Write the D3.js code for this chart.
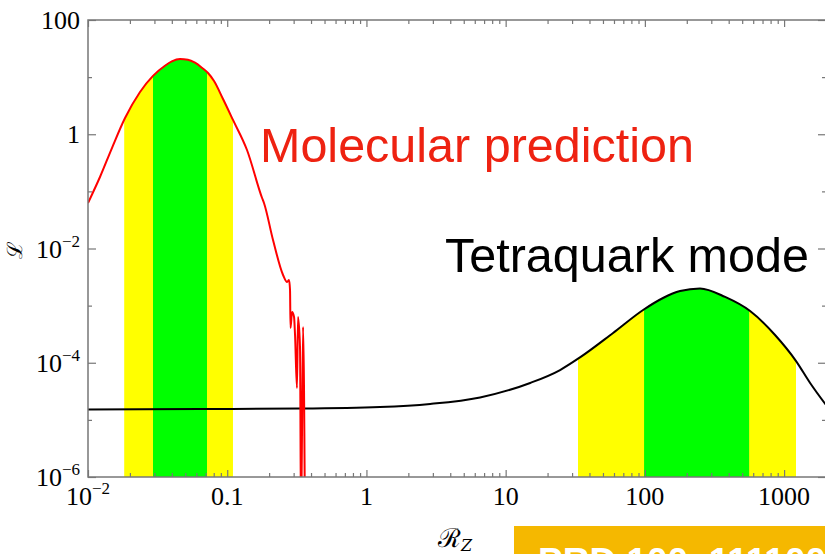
<!DOCTYPE html>
<html>
<head>
<meta charset="utf-8">
<script src="https://cdn.jsdelivr.net/npm/d3@7"></script>
<style>
  html, body { margin: 0; padding: 0; background: #fff; }
  svg { display: block; }
</style>
</head>
<body>
<svg id="chart" width="825" height="554"></svg>
<script>
// Likelihood of R_Z: molecular prediction vs tetraquark model
const molecularX = [0.01, 0.01219, 0.01486, 0.01845, 0.02364, 0.0293, 0.0357, 0.0400, 0.0458, 0.0522,
  0.0587, 0.0658, 0.0728, 0.0804, 0.0933, 0.110, 0.1387, 0.178, 0.1837, 0.2133,
  0.2518, 0.2692, 0.278, 0.2826, 0.2849, 0.2924, 0.302, 0.307, 0.317, 0.3225,
  0.3333, 0.339, 0.3505, 0.362];
const molecularL = [0.0626, 0.1786, 0.574, 1.92, 5.49, 10.5, 15.8, 18.8, 20.7, 20.2,
  17.9, 14.6, 11.8, 8.55, 4.14, 1.78, 0.530, 0.0766, 0.0626, 0.01409,
  0.00344, 0.00259, 0.00281, 0.00188, 0.000406, 0.000773, 0.000632, 0.000306, 3.61e-5, 6.32e-4,
  1.89e-4, 1e-9, 4.23e-4, 1e-9];

const tetraX = [0.01, 0.0638, 0.333, 1.25, 2.87, 6.55, 15.0, 24.6, 34.2, 59.1,
  97.1, 135, 179, 249, 377, 570, 861, 1219, 1538, 2000];
const tetraL = [1.52e-5, 1.55e-5, 1.58e-5, 1.68e-5, 1.90e-5, 2.47e-5, 4.43e-5, 7.46e-5, 1.24e-4, 3.32e-4,
  8.38e-4, 1.36e-3, 1.80e-3, 2.0e-3, 1.42e-3, 8.05e-4, 3.06e-4, 1.07e-4, 4.42e-5, 1.82e-5];

// 1 sigma (green) and 2 sigma (yellow) intervals
const molecularBands = { outer: [0.0182, 0.110], inner: [0.0293, 0.0716] };
const tetraBands = { outer: [33.1, 1219], inner: [98.7, 561] };

const xMajorTicks = [0.01, 0.1, 1, 10, 100, 1000];
const xTickLabels = ["10^−2", "0.1", "1", "10", "100", "1000"];
const yMajorTicks = [100, 1, 1e-2, 1e-4, 1e-6];
const yTickLabels = ["100", "1", "10^−2", "10^−4", "10^−6"];
const yMinorTicks = [10, 0.1, 1e-3, 1e-5];

const svg = d3.select("#chart");
const plotL = 88, plotR = 826, plotT = 20, plotB = 477;

const x = d3.scaleLog().domain([0.01, 2000]).range([plotL, plotR]);
const y = d3.scaleLog().domain([1e-6, 100]).range([plotB, plotT]);

const defs = svg.append("defs");
defs.append("clipPath").attr("id", "plot-clip")
  .append("rect").attr("x", plotL).attr("y", plotT)
  .attr("width", plotR - plotL).attr("height", plotB - plotT);

function bandClip(id, range) {
  defs.append("clipPath").attr("id", id)
    .append("rect").attr("x", x(range[0])).attr("y", plotT)
    .attr("width", x(range[1]) - x(range[0])).attr("height", plotB - plotT);
}
bandClip("mol-outer", molecularBands.outer);
bandClip("mol-inner", molecularBands.inner);
bandClip("tet-outer", tetraBands.outer);
bandClip("tet-inner", tetraBands.inner);

const molData = molecularX.map((v, i) => [v, molecularL[i]]);
const tetData = tetraX.map((v, i) => [v, tetraL[i]]);

const area = d3.area()
  .x(d => x(d[0]))
  .y0(plotB)
  .y1(d => Math.min(plotB + 50, y(d[1])))
  .curve(d3.curveMonotoneX);
const line = d3.line()
  .x(d => x(d[0]))
  .y(d => Math.min(plotB + 50, y(d[1])))
  .curve(d3.curveMonotoneX);

const plot = svg.append("g").attr("clip-path", "url(#plot-clip)");

// shaded intervals under each curve
plot.append("path").attr("d", area(molData)).attr("fill", "#ffff00").attr("clip-path", "url(#mol-outer)");
plot.append("path").attr("d", area(molData)).attr("fill", "#00ff00").attr("clip-path", "url(#mol-inner)");
plot.append("path").attr("d", area(tetData)).attr("fill", "#ffff00").attr("clip-path", "url(#tet-outer)");
plot.append("path").attr("d", area(tetData)).attr("fill", "#00ff00").attr("clip-path", "url(#tet-inner)");

// curves
plot.append("path").attr("d", line(tetData)).attr("fill", "none")
  .attr("stroke", "#000").attr("stroke-width", 2);
plot.append("path").attr("d", line(molData)).attr("fill", "none")
  .attr("stroke", "#ff0000").attr("stroke-width", 2).attr("stroke-linejoin", "round");

// frame and ticks
const axisColor = "#777";
const xMinorTicks = [];
for (let e = -2; e <= 3; e++) {
  for (let m = 2; m <= 9; m++) {
    const v = m * Math.pow(10, e);
    if (v < 2000) xMinorTicks.push(v);
  }
}

function ticks(axisGen, transform, values, size) {
  svg.append("g").attr("transform", transform)
    .call(axisGen.tickValues(values).tickSize(size).tickFormat(""))
    .call(s => s.select(".domain").remove())
    .call(s => s.selectAll("text").remove())
    .call(s => s.selectAll("line").attr("stroke", axisColor).attr("stroke-width", 1.2));
}
ticks(d3.axisBottom(x), `translate(0,${plotB})`, xMajorTicks, -7);
ticks(d3.axisBottom(x), `translate(0,${plotB})`, xMinorTicks, -4);
ticks(d3.axisTop(x), `translate(0,${plotT})`, xMajorTicks, -7);
ticks(d3.axisTop(x), `translate(0,${plotT})`, xMinorTicks, -4);
ticks(d3.axisLeft(y), `translate(${plotL},0)`, yMajorTicks, -8);
ticks(d3.axisLeft(y), `translate(${plotL},0)`, yMinorTicks, -4);
ticks(d3.axisRight(y), `translate(${plotR},0)`, yMajorTicks, -8);
ticks(d3.axisRight(y), `translate(${plotR},0)`, yMinorTicks, -4);

svg.append("rect").attr("x", plotL).attr("y", plotT)
  .attr("width", plotR - plotL).attr("height", plotB - plotT)
  .attr("fill", "none").attr("stroke", axisColor).attr("stroke-width", 1.5);

// tick labels, "^" marks an exponent
function tickLabel(sel, label) {
  const parts = label.split("^");
  sel.append("tspan").text(parts[0]);
  if (parts.length > 1) {
    sel.append("tspan").attr("font-size", 17).attr("dy", -11).text(parts[1]);
  }
}
const serif = "'Liberation Serif', 'Times New Roman', serif";
xMajorTicks.forEach((v, i) => {
  const t = svg.append("text").attr("x", x(v)).attr("y", 505)
    .attr("text-anchor", "middle").attr("font-family", serif).attr("font-size", 26).attr("fill", "#000");
  tickLabel(t, xTickLabels[i]);
});
yMajorTicks.forEach((v, i) => {
  const t = svg.append("text").attr("x", 80).attr("y", y(v) + 9)
    .attr("text-anchor", "end").attr("font-family", serif).attr("font-size", 26).attr("fill", "#000");
  tickLabel(t, yTickLabels[i]);
});

// axis titles
svg.append("text").attr("transform", "translate(22,250) rotate(-90)")
  .attr("text-anchor", "middle").attr("font-family", "'DejaVu Serif', serif")
  .attr("font-size", 21).attr("fill", "#000").text("ℒ");
const xt = svg.append("text").attr("x", 438).attr("y", 547)
  .attr("font-family", "'DejaVu Serif', serif").attr("font-size", 26).attr("fill", "#000");
xt.append("tspan").text("ℛ");
xt.append("tspan").attr("font-size", 16).attr("font-style", "italic").attr("dy", 4).text("Z");

// curve annotations
const sans = "'Liberation Sans', Arial, Helvetica, sans-serif";
svg.append("text").attr("x", 260).attr("y", 162)
  .attr("font-family", sans).attr("font-size", 48.5).attr("fill", "#ee2211")
  .text("Molecular prediction");
svg.append("text").attr("x", 445).attr("y", 272)
  .attr("font-family", sans).attr("font-size", 48.5).attr("fill", "#000")
  .text("Tetraquark mode");

// reference badge
svg.append("rect").attr("x", 514).attr("y", 526).attr("width", 320).attr("height", 40)
  .attr("fill", "#f5b800");
svg.append("text").attr("x", 538).attr("y", 574)
  .attr("font-family", sans).attr("font-size", 37).attr("font-weight", "bold").attr("fill", "#fff")
  .text("PRD 100, 111100");
</script>
</body>
</html>
